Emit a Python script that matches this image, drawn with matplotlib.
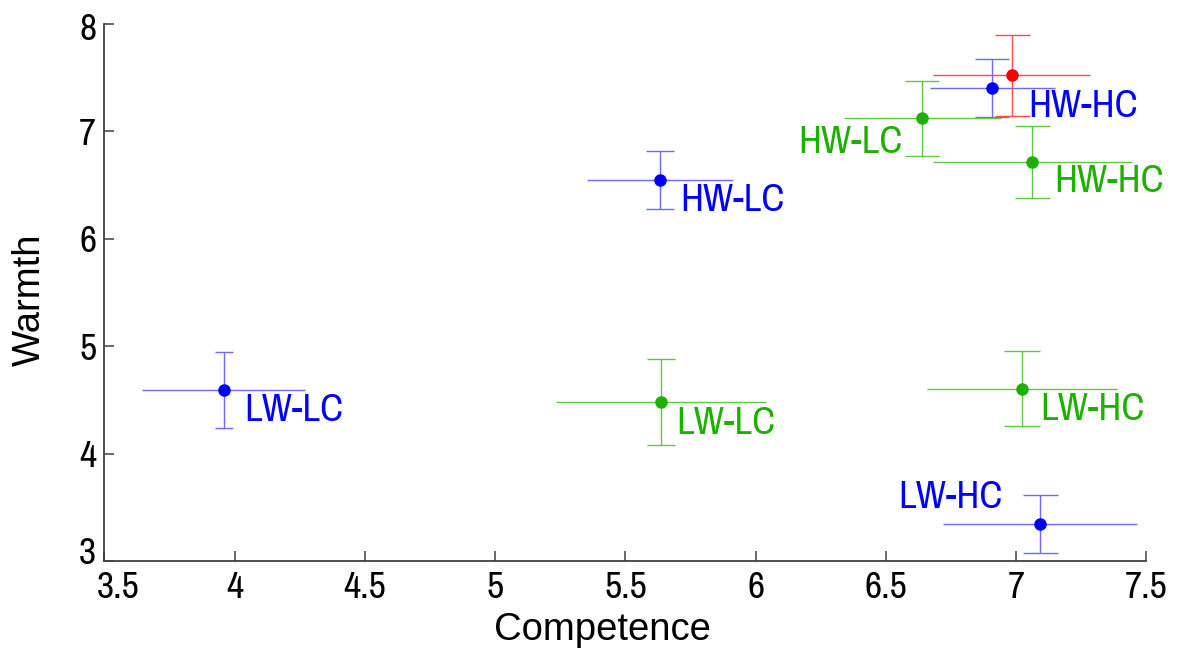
import matplotlib
matplotlib.use("Agg")
import matplotlib.pyplot as plt
import matplotlib.transforms as mtransforms
from matplotlib.ticker import FormatStrFormatter

NARROW = ["Liberation Sans Narrow", "Archivo Narrow", "Liberation Sans", "DejaVu Sans"]
REGULAR = ["Liberation Sans", "DejaVu Sans"]
plt.rcParams["font.family"] = NARROW

# group means with half-width error bars (competence, warmth)
labels = ["LW-LC", "HW-LC", "HW-HC", "LW-HC",
          "LW-LC", "HW-LC", "HW-HC", "LW-HC", ""]
competence = [3.958, 5.632, 6.908, 7.091,
              5.636, 6.640, 7.062, 7.021, 6.982]
warmth = [4.595, 6.548, 7.402, 3.342,
          4.480, 7.122, 6.716, 4.604, 7.522]
competence_err = [0.312, 0.280, 0.240, 0.372,
                  0.402, 0.300, 0.382, 0.365, 0.302]
warmth_err = [0.353, 0.270, 0.270, 0.270,
              0.402, 0.350, 0.334, 0.350, 0.375]
groups = ["blue", "blue", "blue", "blue",
          "green", "green", "green", "green", "red"]

colors = {"blue": "#0000ff", "green": "#1eb000", "red": "#ff0000"}
bar_colors = {"blue": "#6a6aff", "green": "#5ccb42", "red": "#ff4a4a"}

# cap half-widths (pt) and label offsets (px) per point
capsizes = [6.8, 10.1, 12.2, 12.6, 10.3, 11.9, 12.6, 13.0, 12.6]
label_offsets = [(20, -21), (20, -21), (36, -18), (-37, 27),
                 (15, -21), (-20, -24), (22, -20), (19, -21), (0, 0)]
label_ha = ["left", "left", "left", "right",
            "left", "right", "left", "left", "left"]

fig = plt.figure(figsize=(11.79, 6.57), dpi=100)
ax = fig.add_axes([0.0886, 0.1461, 0.8838, 0.8174])

for i in range(len(labels)):
    g = groups[i]
    # vertical bars carry caps, horizontal ones do not
    ax.errorbar(competence[i], warmth[i], yerr=warmth_err[i],
                fmt="none", ecolor=bar_colors[g], elinewidth=1.0,
                capsize=capsizes[i], capthick=1.0, zorder=2)
    ax.errorbar(competence[i], warmth[i], xerr=competence_err[i],
                fmt="none", ecolor=bar_colors[g], elinewidth=1.0,
                capsize=0, zorder=2)
    ax.plot(competence[i], warmth[i], "o", color=colors[g],
            markersize=8, zorder=3)
    if labels[i]:
        ax.annotate(labels[i], (competence[i], warmth[i]),
                    xytext=label_offsets[i], textcoords="offset pixels",
                    ha=label_ha[i], va="center", fontsize=28,
                    color=colors[g])

ax.set_xlim(3.5, 7.5)
ax.set_ylim(3, 8)
ax.set_xticks([3.5, 4, 4.5, 5, 5.5, 6, 6.5, 7, 7.5])
ax.set_yticks([3, 4, 5, 6, 7, 8])
ax.xaxis.set_major_formatter(FormatStrFormatter("%g"))
ax.yaxis.set_major_formatter(FormatStrFormatter("%g"))

ax.spines["top"].set_visible(False)
ax.spines["right"].set_visible(False)
for side in ["left", "bottom"]:
    ax.spines[side].set_color("#404040")
    ax.spines[side].set_linewidth(1.3)

ax.tick_params(direction="in", length=7, width=1.1, color="#404040",
               labelsize=27, labelcolor="black")
ax.tick_params(axis="x", pad=7)
ax.tick_params(axis="y", pad=6)

# nudge the end labels so they stay clear of each other
def nudge(label, dx, dy):
    label.set_transform(label.get_transform() +
                        mtransforms.ScaledTranslation(dx / 100, dy / 100, fig.dpi_scale_trans))

xlabels = ax.get_xticklabels()
ylabels = ax.get_yticklabels()
nudge(xlabels[0], 14, 0)
nudge(ylabels[0], 0, 11)
nudge(ylabels[-1], 0, -3)

ax.set_xlabel("Competence", fontsize=27.5, family=REGULAR)
ax.set_ylabel("Warmth", fontsize=27.5, family=REGULAR)
ax.xaxis.set_label_coords(0.4775, -0.095)
ax.yaxis.set_label_coords(-0.054, 0.486)

fig.savefig("out.png", dpi=100)
